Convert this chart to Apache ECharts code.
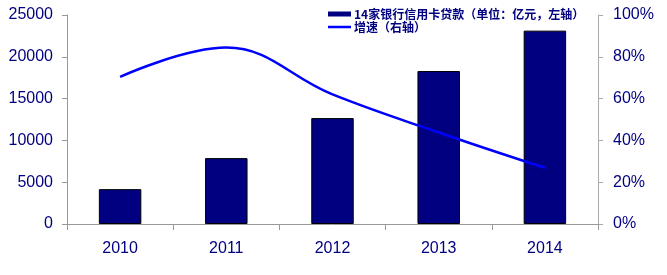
<!DOCTYPE html>
<html><head><meta charset="utf-8">
<script src="https://cdn.jsdelivr.net/npm/echarts@6/dist/echarts.min.js"></script>
<style>html,body{margin:0;padding:0;background:#fff}#c{width:667px;height:275px}</style>
</head><body><div id="c"></div>
<script>
const categories = ['2010', '2011', '2012', '2013', '2014'];
const loanValues = [4170, 7880, 12670, 18300, 23130];
const growthValues = [70.4, 84.4, 62.0, 43.8, 26.9];
const leftTicks = { min: 0, max: 25000, interval: 5000 };
const rightTicks = { min: 0, max: 100, interval: 20 };
const loanName = '14家银行信用卡贷款（单位：亿元，左轴）';
const growthName = '增速（右轴）';

const navy = '#000080';
const chart = echarts.init(document.getElementById('c'), null, { renderer: 'canvas' });
const axisFont = { color: navy, fontSize: 16, fontFamily: 'Liberation Sans, Arial, sans-serif' };
chart.setOption({
  animation: false,
  grid: { left: 67, right: 69, top: 15, bottom: 51 },
  legend: {
    orient: 'vertical', left: 323, top: 3, itemGap: 1,
    itemWidth: 23, itemHeight: 5,
    textStyle: { color: navy, fontSize: 12, fontWeight: 'bold', lineHeight: 12,
      fontFamily: 'Noto Sans CJK SC, sans-serif', padding: [0, 0, 0, -2] },
    data: [
      { name: loanName, icon: 'rect', itemStyle: { borderWidth: 0 } },
      { name: growthName, icon: 'path://M0,0h46v5h-46z', itemStyle: { color: '#0000ff' } }
    ]
  },
  xAxis: {
    type: 'category', data: categories, boundaryGap: true,
    axisLine: { lineStyle: { color: '#999' } },
    axisTick: { show: true, length: 6, lineStyle: { color: '#999' } },
    axisLabel: Object.assign({ margin: 17 }, axisFont),
    splitLine: { show: false }
  },
  yAxis: [
    {
      type: 'value', min: leftTicks.min, max: leftTicks.max, interval: leftTicks.interval,
      axisLine: { show: true, lineStyle: { color: '#999' } },
      axisTick: { show: true, length: 5, lineStyle: { color: '#999' } },
      axisLabel: Object.assign({ margin: 14, formatter: function (v) { return String(v); } }, axisFont),
      splitLine: { show: false }
    },
    {
      type: 'value', min: rightTicks.min, max: rightTicks.max, interval: rightTicks.interval,
      position: 'right',
      axisLine: { show: true, lineStyle: { color: '#aaa' } },
      axisTick: { show: true, length: 5, lineStyle: { color: '#aaa' } },
      axisLabel: Object.assign({ margin: 15, formatter: '{value}%' }, axisFont),
      splitLine: { show: false }
    }
  ],
  series: [
    {
      name: loanName, type: 'bar', yAxisIndex: 0, data: loanValues, barWidth: '40%',
      itemStyle: { color: navy, borderColor: '#000', borderWidth: 1 }
    },
    {
      name: growthName, type: 'line', yAxisIndex: 1, data: growthValues,
      smooth: 0.4, symbol: 'none',
      lineStyle: { color: '#0000ff', width: 2.5 }, itemStyle: { color: '#0000ff' }
    }
  ]
});
</script></body></html>
